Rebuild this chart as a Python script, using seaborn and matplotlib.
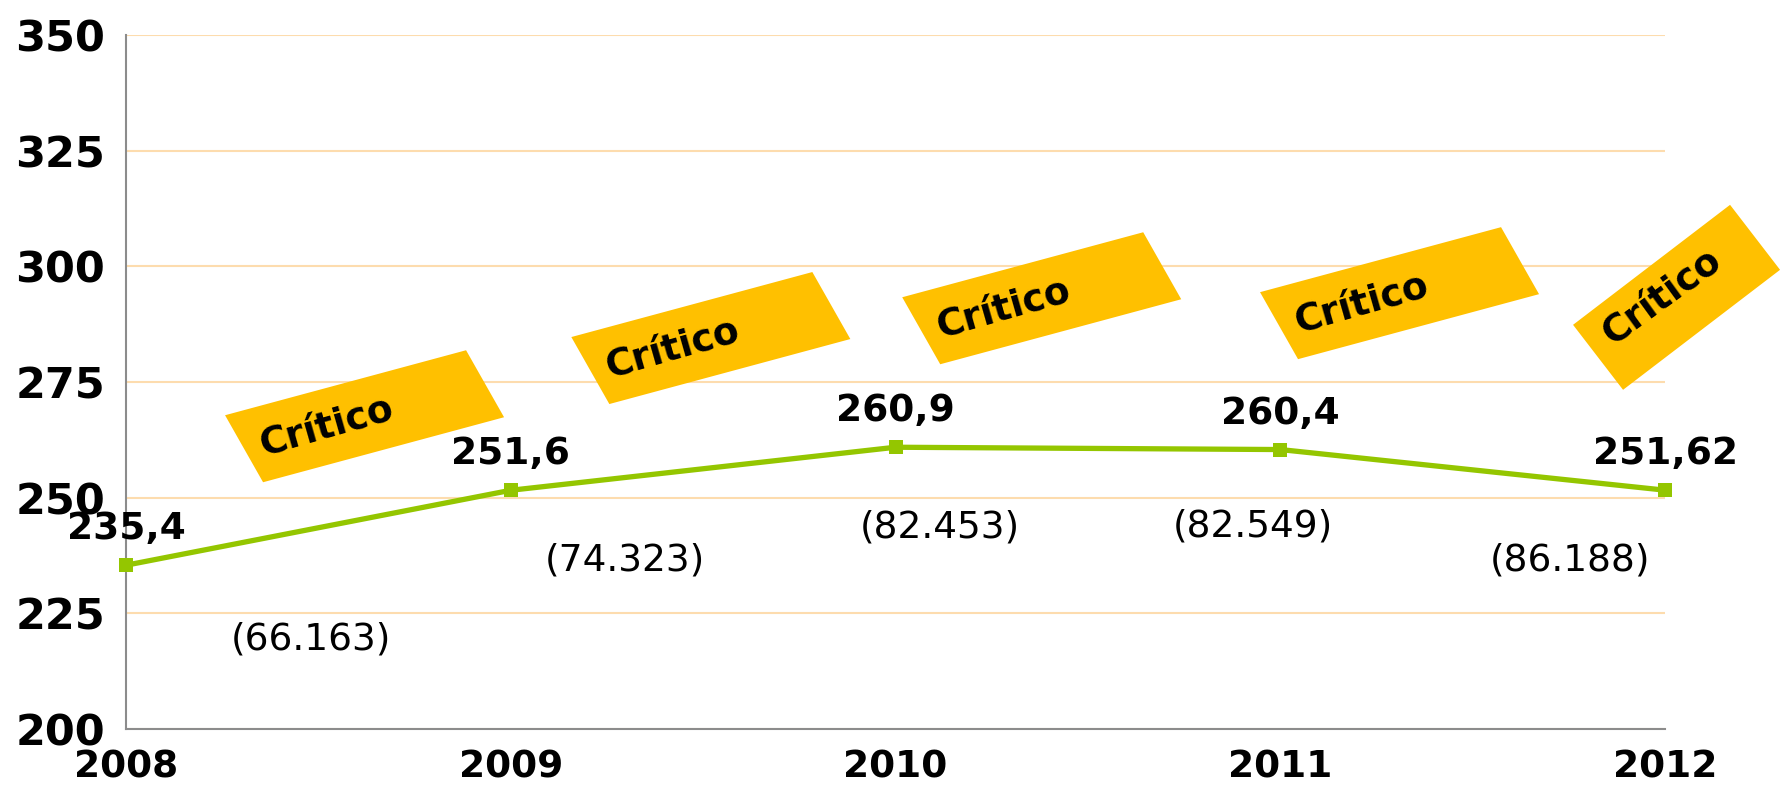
import numpy as np
import matplotlib
matplotlib.use("Agg")
import matplotlib.pyplot as plt
import seaborn as sns
from matplotlib.patches import Polygon
from matplotlib.transforms import IdentityTransform

# Chart data
years = [2008, 2009, 2010, 2011, 2012]
values = [235.4, 251.6, 260.9, 260.4, 251.62]
value_labels = ["235,4", "251,6", "260,9", "260,4", "251,62"]
count_labels = ["(66.163)", "(74.323)", "(82.453)", "(82.549)", "(86.188)"]
badge_text = "Crítico"
y_ticks = [200, 225, 250, 275, 300, 325, 350]

# Layout of the annotations (pixel offsets from each point)
count_offsets = [(185, -74), (114, -70), (44, -80), (-27, -77), (-95, -70)]
badge_x = [2008.62, 2009.52, 2010.38, 2011.31, 2012.03]
badge_y = [267.6, 284.5, 293.1, 294.2, 293.3]
# top edge vector and side vector of each (skewed) badge, in pixels
badge_top = [(241, 65)] * 4 + [(157, 120)]
badge_side = [(38, -67)] * 4 + [(50, -65)]
badge_text_off = [(-38, -11)] * 4 + [(-15, 0)]
badge_angle = [16, 16, 16, 16, 36]

line_color = "#94C600"
badge_color = "#FFC000"
grid_color = "#FDDCAE"
axis_color = "#8C8C8C"

sns.set_style("white")
plt.rcParams["font.family"] = ["DejaVu Sans"]
plt.rcParams["text.color"] = "black"

fig = plt.figure(figsize=(17.8, 7.95), dpi=100)
ax = fig.add_axes([0.0708, 0.0830, 0.8646, 0.8730])

sns.lineplot(x=years, y=values, ax=ax, color=line_color, linewidth=3.8,
             marker="s", markersize=10, markeredgewidth=0, clip_on=False, zorder=3)

ax.set_xlim(2008, 2012)
ax.set_ylim(200, 350)
ax.set_xticks(years)
ax.set_xticklabels([str(y) for y in years], fontsize=27, fontweight="bold")
ax.set_yticks(y_ticks)
ax.set_yticklabels([str(t) for t in y_ticks], fontsize=31, fontweight="bold")
ax.tick_params(axis="x", direction="out", length=8, width=1.5, color=axis_color,
               labelcolor="black", pad=7)
ax.tick_params(axis="y", direction="out", length=8, width=1.5, color=axis_color,
               labelcolor="black", pad=7)
ax.yaxis.grid(True, color=grid_color, linewidth=1.5)
ax.xaxis.grid(False)
ax.set_axisbelow(True)
for side in ["top", "right"]:
    ax.spines[side].set_visible(False)
for side in ["left", "bottom"]:
    ax.spines[side].set_color(axis_color)
    ax.spines[side].set_linewidth(1.5)
ax.set_xlabel("")
ax.set_ylabel("")

# value labels above points, counts below
for x, v, lab, cnt, off in zip(years, values, value_labels, count_labels, count_offsets):
    ax.annotate(lab, xy=(x, v), xytext=(0, 36), textcoords="offset pixels",
                ha="center", va="center", fontsize=27, fontweight="bold",
                color="black", annotation_clip=False, zorder=5)
    ax.annotate(cnt, xy=(x, v), xytext=off, textcoords="offset pixels",
                ha="center", va="center", fontsize=27, color="black",
                annotation_clip=False, zorder=5)

# "Crítico" badges
for bx, by, top, sd, toff, ang in zip(badge_x, badge_y, badge_top, badge_side,
                                      badge_text_off, badge_angle):
    c = ax.transData.transform((bx, by))
    t = np.array(top) / 2.0
    s = np.array(sd) / 2.0
    corners = [c - t - s, c + t - s, c + t + s, c - t + s]
    ax.add_patch(Polygon(corners, closed=True, facecolor=badge_color,
                         edgecolor="none", transform=IdentityTransform(),
                         clip_on=False, zorder=4))
    ax.annotate(badge_text, xy=(bx, by), xytext=toff, textcoords="offset pixels",
                ha="center", va="center", rotation=ang, rotation_mode="anchor",
                fontsize=27, fontweight="bold", color="black",
                annotation_clip=False, zorder=6)

fig.savefig("out.png", dpi=100)
